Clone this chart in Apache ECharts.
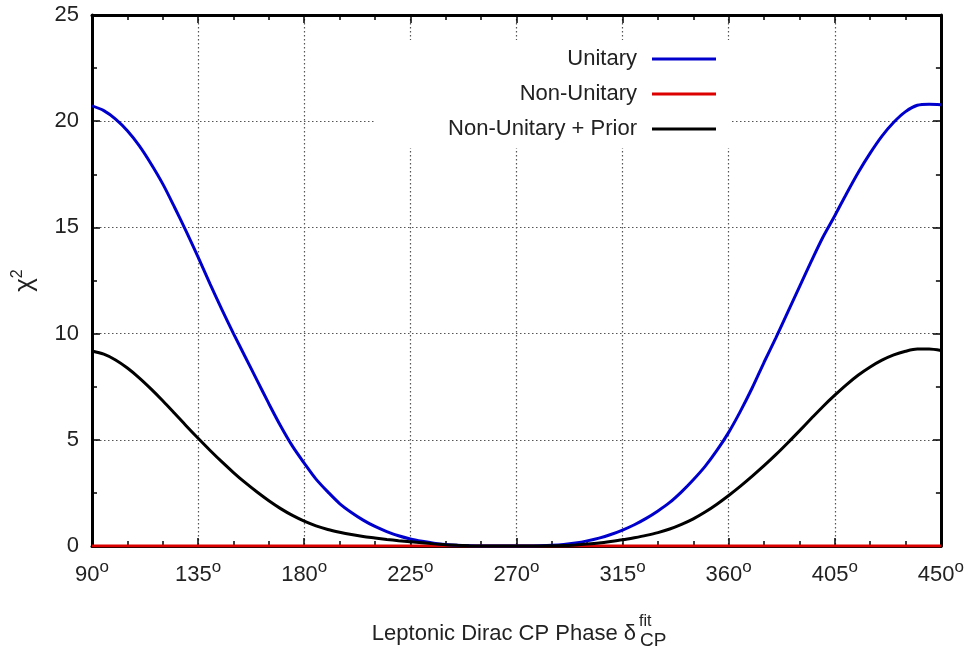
<!DOCTYPE html>
<html><head><meta charset="utf-8">
<script src="https://cdn.jsdelivr.net/npm/echarts@6/dist/echarts.min.js"></script>
<style>html,body{margin:0;padding:0;background:#fff}#c{width:967px;height:651px}</style>
</head><body><div id="c"></div>
<script>
// ---- data ----
const xValues = [90,95,100,105,110,115,120,125,130,135,140,145,150,155,160,165,170,175,180,185,190,195,200,205,210,215,220,225,230,235,240,245,250,255,260,265,270,275,280,285,290,295,300,305,310,315,320,325,330,335,340,345,350,355,360,365,370,375,380,385,390,395,400,405,410,415,420,425,430,435,440,445,450];
const unitary = [20.72,20.5,20.1,19.55,18.85,18.0,17.05,15.95,14.8,13.6,12.35,11.15,10.0,8.9,7.8,6.7,5.65,4.7,3.9,3.15,2.55,2.0,1.58,1.22,0.92,0.68,0.48,0.33,0.22,0.13,0.07,0.03,0.01,0,0,0,0,0,0.01,0.03,0.07,0.14,0.24,0.37,0.54,0.75,1.0,1.3,1.65,2.05,2.55,3.12,3.75,4.5,5.35,6.35,7.45,8.65,9.8,11.0,12.2,13.4,14.55,15.55,16.6,17.6,18.5,19.3,19.95,20.45,20.75,20.8,20.78];
const nonUnitary = [0,0,0,0,0,0,0,0,0,0,0,0,0,0,0,0,0,0,0,0,0,0,0,0,0,0,0,0,0,0,0,0,0,0,0,0,0,0,0,0,0,0,0,0,0,0,0,0,0,0,0,0,0,0,0,0,0,0,0,0,0,0,0,0,0,0,0,0,0,0,0,0,0];
const nonUnitaryPrior = [9.18,9.03,8.76,8.38,7.92,7.4,6.84,6.25,5.65,5.07,4.51,3.97,3.46,2.98,2.54,2.13,1.76,1.44,1.17,0.95,0.78,0.65,0.54,0.45,0.38,0.31,0.25,0.2,0.15,0.1,0.06,0.03,0.01,0,0,0,0,0,0,0.01,0.02,0.05,0.09,0.14,0.21,0.29,0.39,0.5,0.63,0.8,1.02,1.28,1.6,1.97,2.38,2.82,3.29,3.78,4.3,4.85,5.42,6.0,6.57,7.1,7.6,8.05,8.43,8.75,9.0,9.17,9.27,9.27,9.2];
const seriesNames = ['Unitary', 'Non-Unitary', 'Non-Unitary + Prior'];
const seriesColors = ['#0000cc', '#dd0000', '#000000'];
const xTicks = [90,135,180,225,270,315,360,405,450];
const xTickLabels = ['90','135','180','225','270','315','360','405','450'];
const yTicks = [0,5,10,15,20,25];
const yTickLabels = ['0','5','10','15','20','25'];
const xTitleMain = 'Leptonic Dirac CP Phase δ';
const xTitleSup = 'fit';
const xTitleSub = 'CP';
const yTitleMain = 'χ';
const yTitleSup = '2';

// ---- chart ----
const FONT = '"Liberation Sans", Arial, sans-serif';
const chart = echarts.init(document.getElementById('c'), null, {renderer: 'canvas'});
const pairs = arr => xValues.map((x, i) => [x, arr[i]]);
const frameLine = {show: true, onZero: false, lineStyle: {color: '#000', width: 3}};
const tick = {show: true, inside: true, length: 8, lineStyle: {color: '#000', width: 1.5}};
const xMinor = {show: true, splitNumber: 3, length: 5, lineStyle: {color: '#000', width: 1.5}};
const yMinor = {show: true, splitNumber: 2, length: 5, lineStyle: {color: '#000', width: 1.5}};
const grid = {show: true, lineStyle: {color: '#555', type: [1.5, 2.5], width: 1.2}};

const option = {
  backgroundColor: '#fff',
  animation: false,
  grid: {left: 92, right: 25, top: 15, bottom: 105},
  legend: {
    orient: 'vertical', align: 'right', right: 236, top: 40,
    padding: [7, 15, 7, 73], backgroundColor: '#fff',
    itemWidth: 64, itemHeight: 3, itemGap: 11, icon: 'rect',
    textStyle: {fontSize: 22, color: '#222', fontFamily: FONT, lineHeight: 24, padding: [0, 10, 0, 0]},
    data: seriesNames
  },
  xAxis: [{
    type: 'value', min: xTicks[0], max: xTicks[xTicks.length - 1], interval: 45, position: 'bottom',
    axisLine: frameLine, axisTick: tick, minorTick: xMinor, splitLine: grid,
    axisLabel: {
      margin: 13,
      formatter: v => { const i = xTicks.indexOf(v); return i < 0 ? '' : '{a|' + xTickLabels[i] + '}{b|o}'; },
      rich: {
        a: {fontSize: 22, color: '#222', fontFamily: FONT, lineHeight: 26, padding: [5, 0, 0, 0]},
        b: {fontSize: 17, color: '#222', fontFamily: FONT, verticalAlign: 'top', lineHeight: 10}
      }
    }
  }, {
    type: 'value', min: xTicks[0], max: xTicks[xTicks.length - 1], interval: 45, position: 'top',
    axisLine: frameLine, axisTick: tick, minorTick: xMinor, splitLine: {show: false}, axisLabel: {show: false}
  }],
  yAxis: [{
    type: 'value', min: yTicks[0], max: yTicks[yTicks.length - 1], interval: 5, position: 'left',
    axisLine: frameLine, axisTick: tick, minorTick: yMinor, splitLine: grid,
    axisLabel: {
      margin: 13, fontSize: 22, color: '#222', fontFamily: FONT,
      formatter: v => { const i = yTicks.indexOf(v); return i < 0 ? '' : yTickLabels[i]; }
    },
    name: '{a|' + yTitleMain + '}{b|' + yTitleSup + '}', nameLocation: 'middle', nameRotate: 90, nameGap: 52,
    nameTextStyle: {
      rich: {
        a: {fontSize: 26, color: '#222', fontFamily: FONT, lineHeight: 30},
        b: {fontSize: 16, color: '#222', fontFamily: FONT, verticalAlign: 'top', lineHeight: 10}
      }
    }
  }, {
    type: 'value', min: yTicks[0], max: yTicks[yTicks.length - 1], interval: 5, position: 'right',
    axisLine: frameLine, axisTick: tick, minorTick: yMinor, splitLine: {show: false}, axisLabel: {show: false}
  }],
  graphic: [
    {type: 'text', x: 636, y: 634, style: {text: xTitleMain, fill: '#222', font: '22px ' + FONT, align: 'right', verticalAlign: 'middle'}},
    {type: 'text', x: 639, y: 622, style: {text: xTitleSup, fill: '#222', font: '16px ' + FONT, align: 'left', verticalAlign: 'middle'}},
    {type: 'text', x: 640, y: 641, style: {text: xTitleSub, fill: '#222', font: '19px ' + FONT, align: 'left', verticalAlign: 'middle'}}
  ],
  series: [
    {name: seriesNames[0], type: 'line', data: pairs(unitary), showSymbol: false, symbol: 'none', smooth: 0.3, color: seriesColors[0], lineStyle: {width: 3, color: seriesColors[0]}, z: 3},
    {name: seriesNames[1], type: 'line', data: pairs(nonUnitary), showSymbol: false, symbol: 'none', color: seriesColors[1], lineStyle: {width: 3, color: seriesColors[1]}, z: 2},
    {name: seriesNames[2], type: 'line', data: pairs(nonUnitaryPrior), showSymbol: false, symbol: 'none', smooth: 0.3, color: seriesColors[2], lineStyle: {width: 3, color: seriesColors[2]}, z: 4}
  ]
};
chart.setOption(option);
</script>
</body></html>
